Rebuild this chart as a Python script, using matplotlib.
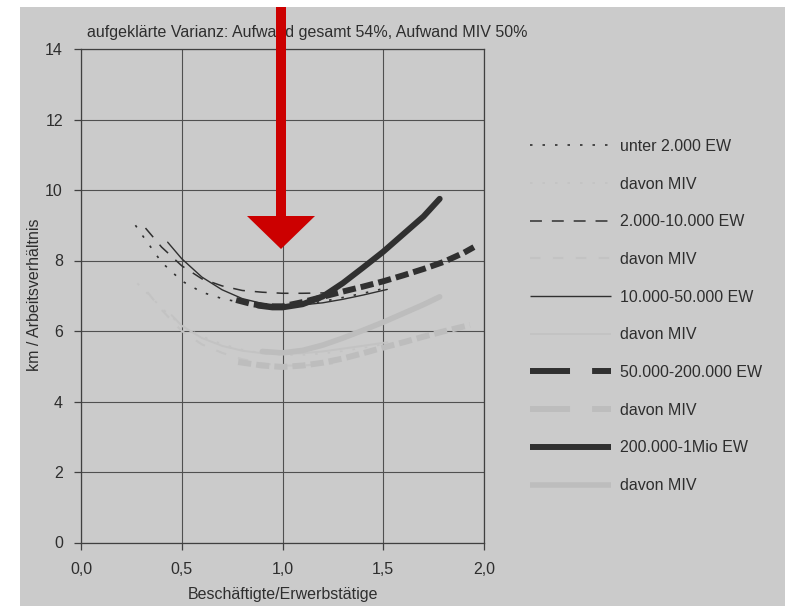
import matplotlib
matplotlib.use("Agg")
import matplotlib.pyplot as plt
from matplotlib.lines import Line2D
from matplotlib.patches import Rectangle, Polygon

plt.rcParams['font.family'] = ['Liberation Sans', 'DejaVu Sans']

# data (x = Beschäftigte/Erwerbstätige, y = km / Arbeitsverhältnis)
x_u2 = [0.27, 0.3, 0.4, 0.5, 0.6, 0.7, 0.8, 0.9, 1.0, 1.1, 1.2, 1.3, 1.4, 1.5]
y_u2 = [9.0, 8.75, 7.95, 7.42, 7.1, 6.92, 6.8, 6.74, 6.72, 6.76, 6.84, 6.95, 7.07, 7.2]
x_u2_miv = [0.28, 0.35, 0.41, 0.5, 0.6, 0.7, 0.8, 0.9, 1.0, 1.1, 1.2, 1.3, 1.4, 1.5]
y_u2_miv = [7.35, 6.95, 6.6, 6.15, 5.85, 5.63, 5.47, 5.37, 5.32, 5.32, 5.36, 5.43, 5.52, 5.62]

x_2_10 = [0.32, 0.4, 0.5, 0.6, 0.7, 0.8, 0.9, 1.0, 1.1, 1.2, 1.25]
y_2_10 = [8.92, 8.38, 7.85, 7.48, 7.28, 7.15, 7.1, 7.07, 7.07, 7.08, 7.1]
x_2_10_miv = [0.33, 0.4, 0.5, 0.6, 0.7, 0.8, 0.9, 1.0, 1.1, 1.25]
y_2_10_miv = [7.1, 6.6, 6.0, 5.62, 5.38, 5.2, 5.08, 5.02, 5.02, 5.08]

x_10_50 = [0.43, 0.5, 0.6, 0.7, 0.8, 0.9, 1.0, 1.1, 1.2, 1.3, 1.4, 1.52]
y_10_50 = [8.52, 8.05, 7.53, 7.17, 6.92, 6.78, 6.72, 6.74, 6.8, 6.9, 7.02, 7.18]
x_10_50_miv = [0.45, 0.5, 0.6, 0.7, 0.8, 0.9, 1.0, 1.1, 1.2, 1.3, 1.4, 1.52]
y_10_50_miv = [6.45, 6.15, 5.8, 5.58, 5.44, 5.37, 5.35, 5.37, 5.42, 5.5, 5.58, 5.68]

x_50_200 = [0.77, 0.85, 0.93, 1.0, 1.1, 1.2, 1.3, 1.4, 1.5, 1.6, 1.7, 1.8, 1.9, 1.95]
y_50_200 = [6.88, 6.76, 6.7, 6.7, 6.82, 6.97, 7.12, 7.26, 7.41, 7.58, 7.76, 7.96, 8.22, 8.38]
x_50_200_miv = [0.78, 0.9, 1.0, 1.1, 1.2, 1.3, 1.4, 1.5, 1.6, 1.7, 1.8, 1.93]
y_50_200_miv = [5.12, 5.02, 4.98, 5.02, 5.1, 5.22, 5.37, 5.53, 5.68, 5.84, 5.99, 6.17]

x_200_1m = [0.88, 0.95, 1.0, 1.1, 1.2, 1.3, 1.4, 1.5, 1.6, 1.7, 1.78]
y_200_1m = [6.72, 6.67, 6.67, 6.76, 6.98, 7.36, 7.8, 8.25, 8.75, 9.25, 9.75]
x_200_1m_miv = [0.9, 1.0, 1.1, 1.2, 1.3, 1.4, 1.5, 1.6, 1.7, 1.78]
y_200_1m_miv = [5.42, 5.38, 5.45, 5.6, 5.8, 6.02, 6.25, 6.5, 6.75, 6.97]

labels = ["unter 2.000 EW", "davon MIV", "2.000-10.000 EW", "davon MIV",
          "10.000-50.000 EW", "davon MIV", "50.000-200.000 EW", "davon MIV",
          "200.000-1Mio EW", "davon MIV"]
x_ticks = [0.0, 0.5, 1.0, 1.5, 2.0]
x_tick_labels = ["0,0", "0,5", "1,0", "1,5", "2,0"]
y_ticks = [0, 2, 4, 6, 8, 10, 12, 14]

W, H = 785, 606
BG = "#cbcbcb"
DARK = "#303030"
LIGHT_THICK = "#bdbdbd"
LIGHT_THIN = "#c3c3c3"
TXT = "#2e2e2e"


def fx(px):
    return px / W


def fy(py):
    return 1 - py / H


fig = plt.figure(figsize=(W / 100, H / 100), dpi=100)
fig.patch.set_facecolor("white")
fig.patches.append(Rectangle((fx(20), 0), 1 - fx(20), fy(7), transform=fig.transFigure,
                             facecolor=BG, edgecolor="none", zorder=-10))

ax = fig.add_axes([fx(81), fy(542.5), fx(484) - fx(81), (542.5 - 49) / H])
ax.set_facecolor("none")

# styles: (color, linewidth, dashes or None)
styles = [
    (DARK, 1.2, (1.5, 6)),
    (LIGHT_THIN, 1.2, (1.5, 6)),
    (DARK, 1.1, (7.8, 6.5)),
    (LIGHT_THIN, 1.5, (5, 6)),
    (DARK, 1.0, None),
    (LIGHT_THIN, 1.4, None),
    (DARK, 4.3, (2.2, 0.85)),
    (LIGHT_THICK, 4.3, (2.2, 0.85)),
    (DARK, 4.3, None),
    (LIGHT_THICK, 4.0, None),
]
series = [(x_u2, y_u2), (x_u2_miv, y_u2_miv), (x_2_10, y_2_10), (x_2_10_miv, y_2_10_miv),
          (x_10_50, y_10_50), (x_10_50_miv, y_10_50_miv), (x_50_200, y_50_200),
          (x_50_200_miv, y_50_200_miv), (x_200_1m, y_200_1m), (x_200_1m_miv, y_200_1m_miv)]

for i, (xs, ys) in enumerate(series):
    col, lw, dash = styles[i]
    ln, = ax.plot(xs, ys, color=col, lw=lw, solid_capstyle="round", dash_capstyle="butt",
                  zorder=2 if i % 2 else 3)
    if dash is not None:
        ln.set_dashes(dash)

ax.set_xlim(0, 2.0)
ax.set_ylim(0, 14)
ax.set_xticks(x_ticks)
ax.set_xticklabels(x_tick_labels)
ax.set_yticks(y_ticks)
ax.grid(True, color="#505050", lw=0.8)
for s in ax.spines.values():
    s.set_color("#404040")
    s.set_linewidth(0.9)
ax.tick_params(direction="out", length=5, width=0.9, colors="#404040", labelcolor=TXT,
               labelsize=11.5)
ax.tick_params(axis="y", pad=8)
ax.tick_params(axis="x", pad=9)

# legend handles (legend of 50.000-200.000 uses the longer dash look of the original)
handles = []
for i, (col, lw, dash) in enumerate(styles):
    h = Line2D([0], [0], color=col, lw=lw, solid_capstyle="butt", dash_capstyle="butt")
    if i in (6, 7):
        h.set_dashes((6.7, 3.7))
    elif dash is not None:
        h.set_dashes(dash)
    handles.append(h)
leg = fig.legend(handles, labels, loc="upper left", bbox_to_anchor=(fx(530), fy(139)),
                 frameon=False, fontsize=11.5, handlelength=5.05, handletextpad=0.6,
                 labelspacing=1.42, borderpad=0, borderaxespad=0)
for t in leg.get_texts():
    t.set_color(TXT)

fig.text(fx(87), fy(33), "aufgeklärte Varianz: Aufwand gesamt 54%, Aufwand MIV 50%",
         fontsize=11.5, color=TXT, va="center", ha="left")
fig.text(fx(35), fy(295), "km / Arbeitsverhältnis", rotation=90, fontsize=11.5,
         color=TXT, va="center", ha="center")
fig.text(fx(283), fy(594), "Beschäftigte/Erwerbstätige", fontsize=11.5, color=TXT,
         va="center", ha="center")

# red arrow overlay pointing at x = 1,0
arrow = [(276, 7), (286, 7), (286, 216), (315, 216), (281, 249), (247, 216), (276, 216)]
fig.patches.append(Polygon([(fx(a), fy(b)) for a, b in arrow], closed=True,
                           transform=fig.transFigure, facecolor="#cc0000",
                           edgecolor="none", zorder=10))

fig.savefig("out.png", dpi=100)
